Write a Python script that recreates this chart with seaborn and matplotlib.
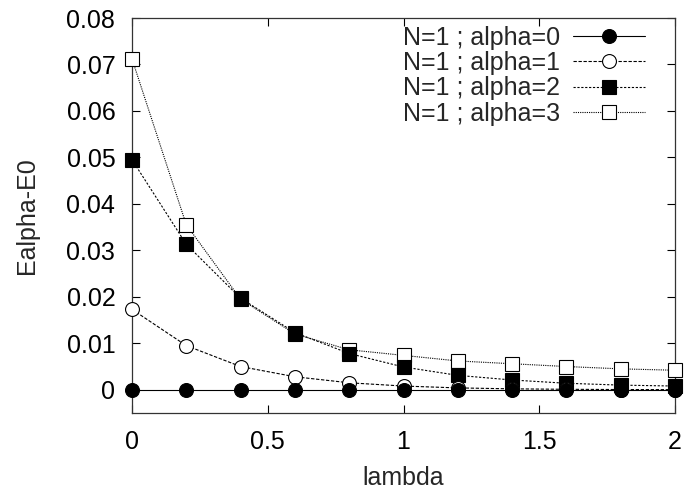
import matplotlib
matplotlib.use("Agg")
import matplotlib.pyplot as plt
import seaborn as sns
import pandas as pd

lam = [0.0, 0.2, 0.4, 0.6, 0.8, 1.0, 1.2, 1.4, 1.6, 1.8, 2.0]
alpha0 = [0.0, 0.0, 0.0, 0.0, 0.0, 0.0, 0.0, 0.0, 0.0, 0.0, 0.0]
alpha1 = [0.0173, 0.0095, 0.0050, 0.0028, 0.0015, 0.0008, 0.0004, 0.0002, 0.0001, 0.00005, 0.00003]
alpha2 = [0.0495, 0.0313, 0.0197, 0.0123, 0.0078, 0.0049, 0.0031, 0.0021, 0.0014, 0.0010, 0.0008]
alpha3 = [0.0712, 0.0355, 0.0195, 0.0120, 0.0086, 0.0074, 0.0062, 0.0056, 0.0050, 0.0045, 0.0042]
labels = ["N=1 ; alpha=0", "N=1 ; alpha=1", "N=1 ; alpha=2", "N=1 ; alpha=3"]
xticks = [0, 0.5, 1, 1.5, 2]
xticklabels = ["0", "0.5", "1", "1.5", "2"]
yticks = [0, 0.01, 0.02, 0.03, 0.04, 0.05, 0.06, 0.07, 0.08]
yticklabels = ["0", "0.01", "0.02", "0.03", "0.04", "0.05", "0.06", "0.07", "0.08"]

sns.set_style("ticks")
plt.rcParams["font.family"] = ["Liberation Sans", "DejaVu Sans"]
FS = 18

series = [alpha0, alpha1, alpha2, alpha3]
styles = [
    dict(marker="o", markerfacecolor="black", linestyle="-"),
    dict(marker="o", markerfacecolor="white", linestyle=(0, (3, 1.5))),
    dict(marker="s", markerfacecolor="black", linestyle=(0, (2, 1.5))),
    dict(marker="s", markerfacecolor="white", linestyle=(0, (1, 1))),
]

fig = plt.figure(figsize=(6.89, 4.95), dpi=100)
ax = fig.add_axes([132 / 689, 1 - 413 / 495, 543 / 689, 395 / 495])

# draw the series in reverse so the filled baseline sits on top
for i in [3, 2, 1, 0]:
    df = pd.DataFrame({"lambda": lam, "value": series[i]})
    sns.lineplot(data=df, x="lambda", y="value", ax=ax, color="black",
                 linewidth=0.8, markersize=10, markeredgecolor="black",
                 markeredgewidth=0.8, label=labels[i], zorder=3 + (3 - i),
                 clip_on=False, **styles[i])

ax.set_xlim(0, 2)
ax.set_ylim(-0.005, 0.08)
ax.set_xticks(xticks)
ax.set_xticklabels(xticklabels)
ax.set_yticks(yticks)
ax.set_yticklabels(yticklabels)
ax.tick_params(direction="in", top=True, right=True, length=6, width=0.8,
               labelsize=FS, pad=12, colors="black")
for s in ax.spines.values():
    s.set_linewidth(0.9)
    s.set_color("#333333")
ax.set_xlabel("lambda", fontsize=FS, labelpad=9)
ax.set_ylabel("Ealpha-E0", fontsize=FS, labelpad=20)

handles, labs = ax.get_legend_handles_labels()
idx = [labs.index(l) for l in labels]
leg = ax.legend([handles[k] for k in idx], [labs[k] for k in idx],
                loc="upper right", bbox_to_anchor=(0.945, 0.98), frameon=False,
                markerfirst=False, fontsize=FS, handlelength=2.9,
                handletextpad=0.5, labelspacing=0.05, borderaxespad=0,
                borderpad=0)
for t in leg.get_texts():
    t.set_ha("right")

fig.savefig("out.png", dpi=100)
